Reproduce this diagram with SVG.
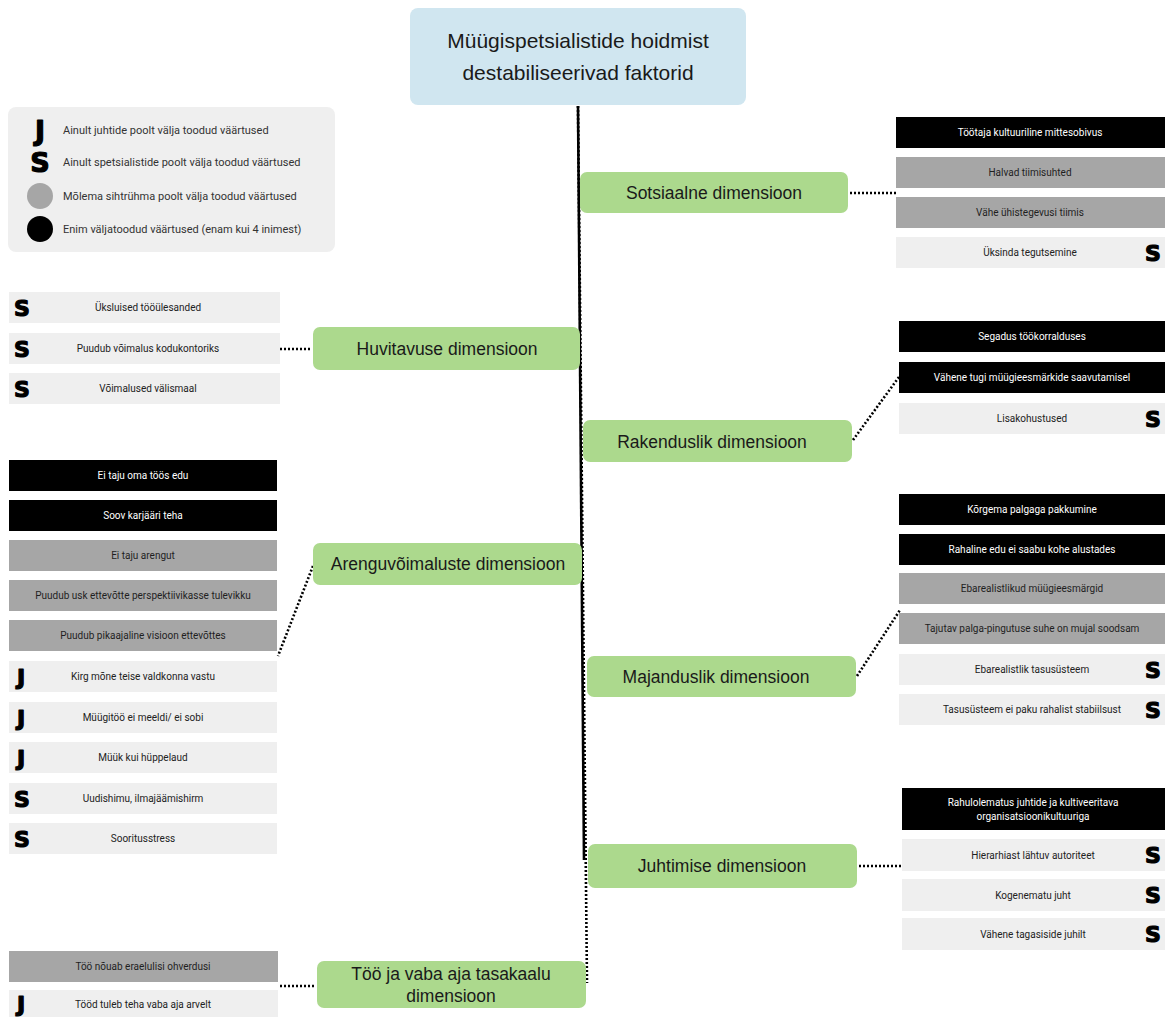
<svg xmlns="http://www.w3.org/2000/svg" width="1166" height="1017" viewBox="0 0 1166 1017">
  <style>
    .dim rect { fill: #acd98d; }
    .dim text { font-family: "Liberation Sans", Arial, sans-serif; font-size: 17.5px; fill: #1a1a1a; text-anchor: middle; dominant-baseline: central; }
    .item text { font-family: Roboto, "Noto Sans", sans-serif; font-size: 10px; text-anchor: middle; dominant-baseline: central; }
    .top rect { fill: #000; }
    .top text { fill: #fff; }
    .both rect { fill: #a6a6a6; }
    .both text { fill: #1f1f1f; }
    .one rect { fill: #efefef; }
    .one text { fill: #222; }
    .legend text { font-family: Roboto, "Noto Sans", sans-serif; font-size: 11px; fill: #333; dominant-baseline: central; }
    text.mark, .item text.mark, .legend text.mark { font-family: "DejaVu Sans", sans-serif; font-weight: 900; font-size: 22px; fill: #000; stroke: #000; stroke-width: 1.2; stroke-linejoin: round; text-anchor: middle; dominant-baseline: central; }
    .legend text.mark { font-size: 27px; }
    .dots { fill: none; stroke: #000; stroke-width: 2.6; stroke-dasharray: 2 2; }
  </style>

  <!-- connectors -->
  <g id="connectors">
    <line class="dots" x1="578" y1="106" x2="587" y2="983"/>
    <line x1="578" y1="106" x2="584" y2="860" stroke="#000" stroke-width="2.6"/>
    <line class="dots" x1="850" y1="193" x2="896" y2="193"/>
    <line class="dots" x1="280" y1="349" x2="312" y2="349"/>
    <line class="dots" x1="853" y1="440" x2="899" y2="377"/>
    <line class="dots" x1="313" y1="566" x2="278" y2="656"/>
    <line class="dots" x1="857" y1="676" x2="900" y2="610"/>
    <line class="dots" x1="859" y1="866" x2="902" y2="866"/>
    <line class="dots" x1="280" y1="986" x2="316" y2="986"/>
  </g>

  <!-- title -->
  <g id="title">
    <rect x="410" y="8" width="336" height="97" rx="8" fill="#d0e6f0"/>
    <text x="578" y="40" font-family="Liberation Sans, Arial, sans-serif" font-size="21" fill="#1a1a1a" text-anchor="middle" dominant-baseline="central">Müügispetsialistide hoidmist</text>
    <text x="578" y="72" font-family="Liberation Sans, Arial, sans-serif" font-size="21" fill="#1a1a1a" text-anchor="middle" dominant-baseline="central">destabiliseerivad faktorid</text>
  </g>

  <!-- legend -->
  <g id="legend" class="legend">
    <rect x="8" y="107" width="327" height="145" rx="8" fill="#efefef"/>
    <text class="mark" x="40" y="130">J</text>
    <text x="63" y="130">Ainult juhtide poolt välja toodud väärtused</text>
    <text class="mark" x="40" y="162">S</text>
    <text x="63" y="162">Ainult spetsialistide poolt välja toodud väärtused</text>
    <circle cx="40" cy="196" r="13" fill="#a6a6a6"/>
    <text x="63" y="196">Mõlema sihtrühma poolt välja toodud väärtused</text>
    <circle cx="40" cy="229" r="13" fill="#000"/>
    <text x="63" y="229">Enim väljatoodud väärtused (enam kui 4 inimest)</text>
  </g>

  <!-- Sotsiaalne -->
  <g id="dim-sotsiaalne" class="dim">
    <rect x="580" y="172" width="268" height="41" rx="7"/>
    <text x="714" y="193">Sotsiaalne dimensioon</text>
  </g>
  <g id="items-sotsiaalne" class="item">
    <g class="top"><rect x="896" y="117" width="269" height="31"/><text x="1030" y="132.5">Töötaja kultuuriline mittesobivus</text></g>
    <g class="both"><rect x="896" y="157" width="269" height="31"/><text x="1030" y="172.5">Halvad tiimisuhted</text></g>
    <g class="both"><rect x="896" y="197" width="269" height="31"/><text x="1030" y="212.5">Vähe ühistegevusi tiimis</text></g>
    <g class="one"><rect x="896" y="237" width="269" height="31"/><text x="1030" y="252.5">Üksinda tegutsemine</text><text class="mark" x="1153" y="253">S</text></g>
  </g>

  <!-- Huvitavuse -->
  <g id="dim-huvitavuse" class="dim">
    <rect x="313" y="327" width="267" height="43" rx="7"/>
    <text x="447" y="349">Huvitavuse dimensioon</text>
  </g>
  <g id="items-huvitavuse" class="item">
    <g class="one"><rect x="9" y="292" width="271" height="31"/><text x="148" y="307.5">Üksluised tööülesanded</text><text class="mark" x="22" y="308">S</text></g>
    <g class="one"><rect x="9" y="333" width="271" height="31"/><text x="148" y="348.5">Puudub võimalus kodukontoriks</text><text class="mark" x="22" y="349">S</text></g>
    <g class="one"><rect x="9" y="373" width="271" height="31"/><text x="148" y="388.5">Võimalused välismaal</text><text class="mark" x="22" y="389">S</text></g>
  </g>

  <!-- Rakenduslik -->
  <g id="dim-rakenduslik" class="dim">
    <rect x="583" y="420" width="269" height="42" rx="7"/>
    <text x="712" y="442">Rakenduslik dimensioon</text>
  </g>
  <g id="items-rakenduslik" class="item">
    <g class="top"><rect x="899" y="321" width="266" height="31"/><text x="1032" y="336.5">Segadus töökorralduses</text></g>
    <g class="top"><rect x="899" y="362" width="266" height="31"/><text x="1032" y="377.5">Vähene tugi müügieesmärkide saavutamisel</text></g>
    <g class="one"><rect x="899" y="403" width="266" height="31"/><text x="1032" y="418.5">Lisakohustused</text><text class="mark" x="1153" y="419">S</text></g>
  </g>

  <!-- Arenguvõimaluste -->
  <g id="dim-arenguvoimaluste" class="dim">
    <rect x="313" y="543" width="269" height="42" rx="7"/>
    <text x="448" y="564">Arenguvõimaluste dimensioon</text>
  </g>
  <g id="items-arenguvoimaluste" class="item">
    <g class="top"><rect x="9" y="460" width="268" height="31"/><text x="143" y="475.5">Ei taju oma töös edu</text></g>
    <g class="top"><rect x="9" y="500" width="268" height="31"/><text x="143" y="515.5">Soov karjääri teha</text></g>
    <g class="both"><rect x="9" y="540" width="268" height="31"/><text x="143" y="555.5">Ei taju arengut</text></g>
    <g class="both"><rect x="9" y="580" width="268" height="31"/><text x="143" y="595.5">Puudub usk ettevõtte perspektiivikasse tulevikku</text></g>
    <g class="both"><rect x="9" y="620" width="268" height="31"/><text x="143" y="635.5">Puudub pikaajaline visioon ettevõttes</text></g>
    <g class="one"><rect x="9" y="661" width="268" height="31"/><text x="143" y="676.5">Kirg mõne teise valdkonna vastu</text><text class="mark" x="21" y="677">J</text></g>
    <g class="one"><rect x="9" y="702" width="268" height="31"/><text x="143" y="717.5">Müügitöö ei meeldi/ ei sobi</text><text class="mark" x="21" y="718">J</text></g>
    <g class="one"><rect x="9" y="742" width="268" height="31"/><text x="143" y="757.5">Müük kui hüppelaud</text><text class="mark" x="21" y="758">J</text></g>
    <g class="one"><rect x="9" y="783" width="268" height="31"/><text x="143" y="798.5">Uudishimu, ilmajäämishirm</text><text class="mark" x="22" y="799">S</text></g>
    <g class="one"><rect x="9" y="823" width="268" height="31"/><text x="143" y="838.5">Sooritusstress</text><text class="mark" x="22" y="839">S</text></g>
  </g>

  <!-- Majanduslik -->
  <g id="dim-majanduslik" class="dim">
    <rect x="587" y="656" width="269" height="41" rx="7"/>
    <text x="716" y="677">Majanduslik dimensioon</text>
  </g>
  <g id="items-majanduslik" class="item">
    <g class="top"><rect x="899" y="494" width="266" height="31"/><text x="1032" y="509.5">Kõrgema palgaga pakkumine</text></g>
    <g class="top"><rect x="899" y="534" width="266" height="31"/><text x="1032" y="549.5">Rahaline edu ei saabu kohe alustades</text></g>
    <g class="both"><rect x="899" y="573" width="266" height="31"/><text x="1032" y="588.5">Ebarealistlikud müügieesmärgid</text></g>
    <g class="both"><rect x="899" y="613" width="266" height="31"/><text x="1032" y="628.5">Tajutav palga-pingutuse suhe on mujal soodsam</text></g>
    <g class="one"><rect x="899" y="654" width="266" height="31"/><text x="1032" y="669.5">Ebarealistlik tasusüsteem</text><text class="mark" x="1153" y="670">S</text></g>
    <g class="one"><rect x="899" y="694" width="266" height="31"/><text x="1032" y="709.5">Tasusüsteem ei paku rahalist stabiilsust</text><text class="mark" x="1153" y="710">S</text></g>
  </g>

  <!-- Juhtimise -->
  <g id="dim-juhtimise" class="dim">
    <rect x="588" y="844" width="269" height="44" rx="7"/>
    <text x="722" y="866">Juhtimise dimensioon</text>
  </g>
  <g id="items-juhtimise" class="item">
    <g class="top"><rect x="902" y="788" width="263" height="42"/><text x="1033" y="802">Rahulolematus juhtide ja kultiveeritava</text><text x="1033" y="816">organisatsioonikultuuriga</text></g>
    <g class="one"><rect x="902" y="839" width="263" height="32"/><text x="1033" y="855">Hierarhiast lähtuv autoriteet</text><text class="mark" x="1153" y="855">S</text></g>
    <g class="one"><rect x="902" y="879" width="263" height="32"/><text x="1033" y="895">Kogenematu juht</text><text class="mark" x="1153" y="895">S</text></g>
    <g class="one"><rect x="902" y="918" width="263" height="32"/><text x="1033" y="934">Vähene tagasiside juhilt</text><text class="mark" x="1153" y="934">S</text></g>
  </g>

  <!-- Töö ja vaba aja tasakaalu -->
  <g id="dim-tasakaal" class="dim">
    <rect x="317" y="961" width="269" height="47" rx="7"/>
    <text x="451" y="974">Töö ja vaba aja tasakaalu</text>
    <text x="451" y="996">dimensioon</text>
  </g>
  <g id="items-tasakaal" class="item">
    <g class="both"><rect x="9" y="951" width="269" height="31"/><text x="143" y="966.5">Töö nõuab eraelulisi ohverdusi</text></g>
    <g class="one"><rect x="9" y="990" width="269" height="29"/><text x="143" y="1004">Tööd tuleb teha vaba aja arvelt</text><text class="mark" x="21" y="1004">J</text></g>
  </g>
</svg>
